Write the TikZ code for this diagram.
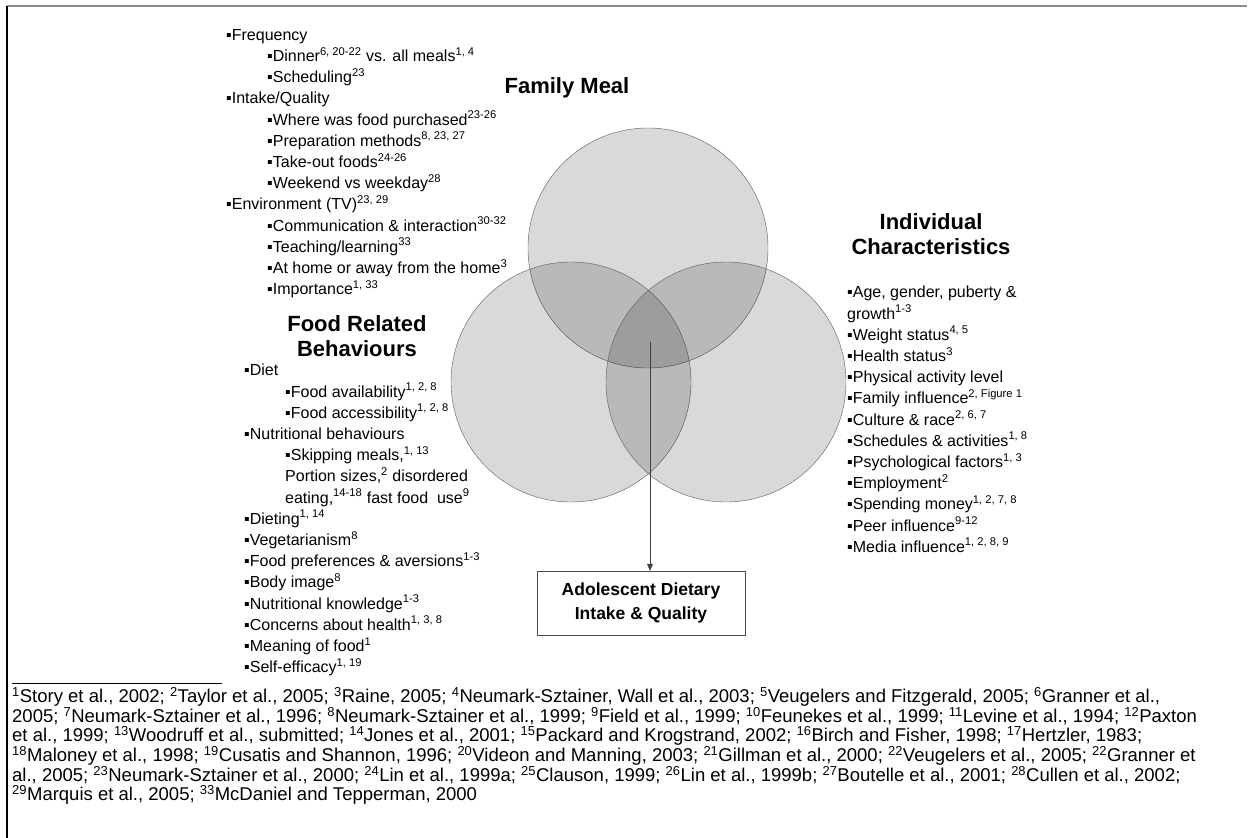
\documentclass[tikz,border=0pt]{standalone}
\usepackage{fontspec}
\setmainfont{Liberation Sans}
\usetikzlibrary{positioning,arrows.meta}

\newcommand{\rf}[1]{\textsuperscript{#1}}
\newcommand{\ind}{\hspace*{41pt}}

\begin{document}
\begin{tikzpicture}[x=1pt,y=-1pt,
venn/.style={circle, draw=black!65, fill=black, fill opacity=0.15, draw opacity=1, minimum size=240pt, inner sep=0pt},
heading/.style={font=\fontsize{22}{25}\selectfont\bfseries, align=center, inner sep=0pt},
itemlist/.style={font=\fontsize{16}{21.2}\selectfont, align=left, anchor=north west, inner sep=0pt},
outcome/.style={rectangle, draw=black!70, minimum width=208pt, minimum height=64pt, font=\fontsize{17.5}{24}\selectfont\bfseries, align=center},
refs/.style={font=\fontsize{18.5}{19}\selectfont, align=left, anchor=north west, inner sep=0pt},
]
\useasboundingbox (0,0) rectangle (1253,838);

%Frame
\draw[black!45, line width=1.5pt] (7,6) -- (1247,6);
\draw[line width=2pt] (7,6) -- (7,838);

%Circles
\node[venn]   (meal)   at (648,248) {};
\node[venn]   (food)   at (571,382) {};
\node[venn]   (indiv)  at (726,382) {};

%Headings
\node[heading] (mealhead)  at (567,88)  {Family Meal};
\node[heading] (foodhead)  at (357,336) {Food Related\\Behaviours};
\node[heading] (indivhead) at (931,234) {Individual\\Characteristics};

%Lists
\node[itemlist] (meallist) at (226,29) {%
▪Frequency\\
\ind▪Dinner\rf{6, 20-22} vs. all meals\rf{1, 4}\\
\ind▪Scheduling\rf{23}\\
▪Intake/Quality\\
\ind▪Where was food purchased\rf{23-26}\\
\ind▪Preparation methods\rf{8, 23, 27}\\
\ind▪Take-out foods\rf{24-26}\\
\ind▪Weekend vs weekday\rf{28}\\
▪Environment (TV)\rf{23, 29}\\
\ind▪Communication \& interaction\rf{30-32}\\
\ind▪Teaching/learning\rf{33}\\
\ind▪At home or away from the home\rf{3}\\
\ind▪Importance\rf{1, 33}};

\node[itemlist] (foodlist) at (244,364) {%
▪Diet\\
\ind▪Food availability\rf{1, 2, 8}\\
\ind▪Food accessibility\rf{1, 2, 8}\\
▪Nutritional behaviours\\
\ind▪Skipping meals,\rf{1, 13}\\
\ind Portion sizes,\rf{2} disordered\\
\ind eating,\rf{14-18} fast food\ \ use\rf{9}\\
▪Dieting\rf{1, 14}\\
▪Vegetarianism\rf{8}\\
▪Food preferences \& aversions\rf{1-3}\\
▪Body image\rf{8}\\
▪Nutritional knowledge\rf{1-3}\\
▪Concerns about health\rf{1, 3, 8}\\
▪Meaning of food\rf{1}\\
▪Self-efficacy\rf{1, 19}};

\node[itemlist] (indivlist) at (847,286) {%
▪Age, gender, puberty \&\\
growth\rf{1-3}\\
▪Weight status\rf{4, 5}\\
▪Health status\rf{3}\\
▪Physical activity level\\
▪Family influence\rf{2, Figure 1}\\
▪Culture \& race\rf{2, 6, 7}\\
▪Schedules \& activities\rf{1, 8}\\
▪Psychological factors\rf{1, 3}\\
▪Employment\rf{2}\\
▪Spending money\rf{1, 2, 7, 8}\\
▪Peer influence\rf{9-12}\\
▪Media influence\rf{1, 2, 8, 9}};

%Outcome
\node[outcome] (diet) at (641,603) {Adolescent Dietary\\Intake \& Quality};
\coordinate (core) at (650,342);
\draw[-{Triangle[length=7pt,width=6pt]}, black!75] (core) -- (core |- diet.north);

%References
\draw (12,683) -- (222,683);
\node[refs] (reflist) at (12,687) {%
\rf{1}Story et al., 2002; \rf{2}Taylor et al., 2005; \rf{3}Raine, 2005; \rf{4}Neumark-Sztainer, Wall et al., 2003; \rf{5}Veugelers and Fitzgerald, 2005; \rf{6}Granner et al.,\\
2005; \rf{7}Neumark-Sztainer et al., 1996; \rf{8}Neumark-Sztainer et al., 1999; \rf{9}Field et al., 1999; \rf{10}Feunekes et al., 1999; \rf{11}Levine et al., 1994; \rf{12}Paxton\\
et al., 1999; \rf{13}Woodruff et al., submitted; \rf{14}Jones et al., 2001; \rf{15}Packard and Krogstrand, 2002; \rf{16}Birch and Fisher, 1998; \rf{17}Hertzler, 1983;\\
\rf{18}Maloney et al., 1998; \rf{19}Cusatis and Shannon, 1996; \rf{20}Videon and Manning, 2003; \rf{21}Gillman et al., 2000; \rf{22}Veugelers et al., 2005; \rf{22}Granner et\\
al., 2005; \rf{23}Neumark-Sztainer et al., 2000; \rf{24}Lin et al., 1999a; \rf{25}Clauson, 1999; \rf{26}Lin et al., 1999b; \rf{27}Boutelle et al., 2001; \rf{28}Cullen et al., 2002;\\
\rf{29}Marquis et al., 2005; \rf{33}McDaniel and Tepperman, 2000};

\end{tikzpicture}
\end{document}
